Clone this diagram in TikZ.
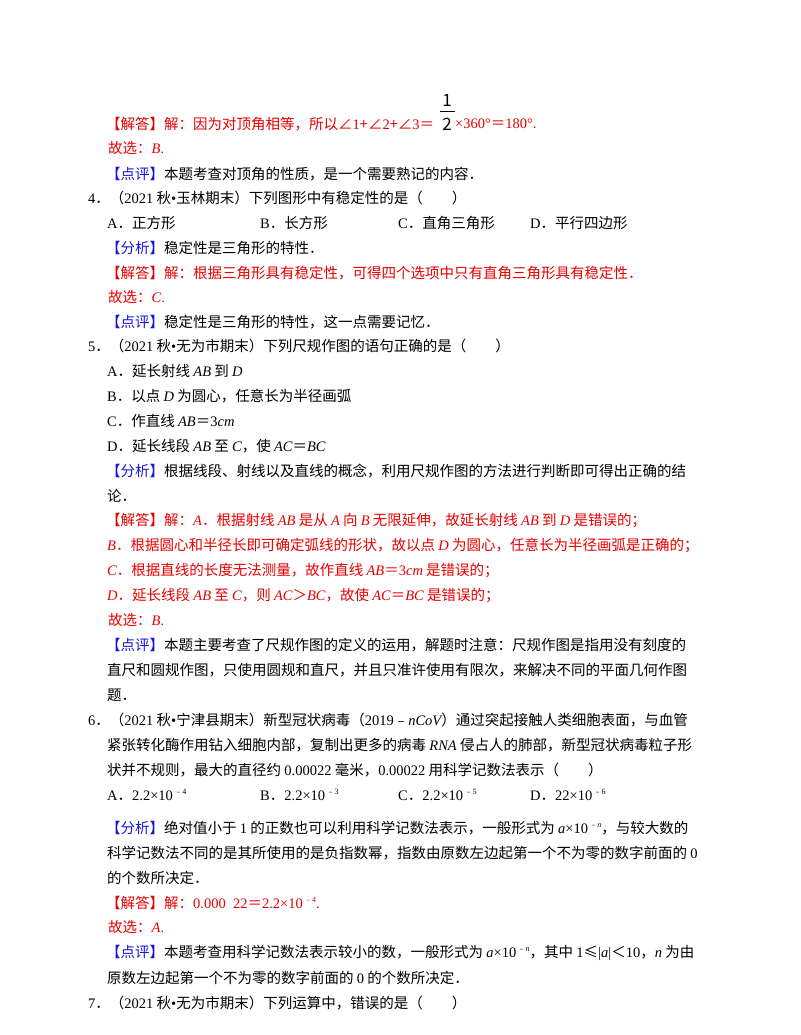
\documentclass[tikz,border=0pt]{standalone}
\usepackage{fontspec}
\setmainfont{Noto Sans CJK SC}
\newfontfamily\lat{Liberation Serif}
\newcommand{\mi}[1]{{\lat\itshape #1}}
\newcommand{\nm}[1]{{\lat #1}}
\newcommand{\sm}[1]{\raisebox{0.8ex}{\footnotesize\,﹣#1}}
\definecolor{rd}{RGB}{230,0,0}
\definecolor{bl}{RGB}{20,20,220}
\newcommand{\fxq}{{\color{bl}【分析】}}
\newcommand{\dpq}{{\color{bl}【点评】}}
\begin{document}
\begin{tikzpicture}[x=1pt,y=-1pt]
\tikzset{t/.style={anchor=west,inner sep=0pt,font=\fontsize{14.5}{16}\selectfont},r/.style={t,text=rd},fr/.style={inner sep=0pt,font=\fontsize{17}{18}\selectfont}}
\useasboundingbox (0,0) rectangle (800,1035);
\node[r] (l1) at (106,124) {【解答】解：因为对顶角相等，所以∠\nm{1}+∠\nm{2}+∠\nm{3}＝};
\node[fr] (f2) at (447,124) {2};
\node[fr] (f1) at (447,100) {1};
\draw (440,111) -- (455,111);
\node[r] (l1b) at (455,124) {\nm{×360°}＝\nm{180°.}};
\node[r] (l2) at (108,148) {故选：\mi{B}\nm{.}};
\node[t] (l3) at (106,174) {\dpq 本题考查对顶角的性质，是一个需要熟记的内容．};
\node[t] (q4) at (88,198) {\nm{4}．（\nm{2021} 秋\nm{•}玉林期末）下列图形中有稳定性的是（\hspace{2em}）};
\node[t] (o4a) at (107,223) {\nm{A}．正方形};
\node[t] (o4b) at (260,223) {\nm{B}．长方形};
\node[t] (o4c) at (398,223) {\nm{C}．直角三角形};
\node[t] (o4d) at (530,223) {\nm{D}．平行四边形};
\node[t] (a4) at (106,248) {\fxq 稳定性是三角形的特性．};
\node[r] (s4) at (106,273) {【解答】解：根据三角形具有稳定性，可得四个选项中只有直角三角形具有稳定性．};
\node[r] (x4) at (108,297) {故选：\mi{C}\nm{.}};
\node[t] (d4) at (106,322) {\dpq 稳定性是三角形的特性，这一点需要记忆．};
\node[t] (q5) at (88,346) {\nm{5}．（\nm{2021} 秋\nm{•}无为市期末）下列尺规作图的语句正确的是（\hspace{2em}）};
\node[t] (o5a) at (107,371) {\nm{A}．延长射线 \mi{AB} 到 \mi{D}};
\node[t] (o5b) at (107,396) {\nm{B}．以点 \mi{D} 为圆心，任意长为半径画弧};
\node[t] (o5c) at (107,421) {\nm{C}．作直线 \mi{AB}＝\nm{3}\mi{cm}};
\node[t] (o5d) at (107,446) {\nm{D}．延长线段 \mi{AB} 至 \mi{C}，使 \mi{AC}＝\mi{BC}};
\node[t] (a5) at (106,471) {\fxq 根据线段、射线以及直线的概念，利用尺规作图的方法进行判断即可得出正确的结};
\node[t] (a5b) at (107,496) {论．};
\node[r] (s5) at (106,521) {【解答】解：\mi{A}．根据射线 \mi{AB} 是从 \mi{A} 向 \mi{B} 无限延伸，故延长射线 \mi{AB} 到 \mi{D} 是错误的；};
\node[r] (s5b) at (107,546) {\mi{B}．根据圆心和半径长即可确定弧线的形状，故以点 \mi{D} 为圆心，任意长为半径画弧是正确的；};
\node[r] (s5c) at (107,571) {\mi{C}．根据直线的长度无法测量，故作直线 \mi{AB}＝\nm{3}\mi{cm} 是错误的；};
\node[r] (s5d) at (107,596) {\mi{D}．延长线段 \mi{AB} 至 \mi{C}，则 \mi{AC}＞\mi{BC}，故使 \mi{AC}＝\mi{BC} 是错误的；};
\node[r] (x5) at (108,620) {故选：\mi{B}\nm{.}};
\node[t] (d5) at (106,645) {\dpq 本题主要考查了尺规作图的定义的运用，解题时注意：尺规作图是指用没有刻度的};
\node[t] (d5b) at (107,670) {直尺和圆规作图，只使用圆规和直尺，并且只准许使用有限次，来解决不同的平面几何作图};
\node[t] (d5c) at (107,695) {题．};
\node[t] (q6) at (88,720) {\nm{6}．（\nm{2021} 秋\nm{•}宁津县期末）新型冠状病毒（\nm{2019}﹣\mi{nCoV}）通过突起接触人类细胞表面，与血管};
\node[t] (q6b) at (107,745) {紧张转化酶作用钻入细胞内部，复制出更多的病毒 \mi{RNA} 侵占人的肺部，新型冠状病毒粒子形};
\node[t] (q6c) at (107,770) {状并不规则，最大的直径约 \nm{0.00022} 毫米，\nm{0.00022} 用科学记数法表示（\hspace{2em}）};
\node[t] (o6a) at (107,795) {\nm{A}．\nm{2.2×10}\sm{\nm{4}}};
\node[t] (o6b) at (260,795) {\nm{B}．\nm{2.2×10}\sm{\nm{3}}};
\node[t] (o6c) at (398,795) {\nm{C}．\nm{2.2×10}\sm{\nm{5}}};
\node[t] (o6d) at (530,795) {\nm{D}．\nm{22×10}\sm{\nm{6}}};
\node[t] (a6) at (106,828) {\fxq 绝对值小于 \nm{1} 的正数也可以利用科学记数法表示，一般形式为 \mi{a}\nm{×10}\sm{\mi{n}}，与较大数的};
\node[t] (a6b) at (107,853) {科学记数法不同的是其所使用的是负指数幂，指数由原数左边起第一个不为零的数字前面的 \nm{0}};
\node[t] (a6c) at (107,878) {的个数所决定．};
\node[r] (s6) at (106,903) {【解答】解：\nm{0.000\ \ 22}＝\nm{2.2×10}\sm{\nm{4}}\nm{.}};
\node[r] (x6) at (108,927) {故选：\mi{A}\nm{.}};
\node[t] (d6) at (106,953) {\dpq 本题考查用科学记数法表示较小的数，一般形式为 \mi{a}\nm{×10}\sm{\mi{n}}，其中 \nm{1}≤\nm{|}\mi{a}\nm{|}＜\nm{10}，\mi{n} 为由};
\node[t] (d6b) at (107,978) {原数左边起第一个不为零的数字前面的 \nm{0} 的个数所决定．};
\node[t] (q7) at (88,1003) {\nm{7}．（\nm{2021} 秋\nm{•}无为市期末）下列运算中，错误的是（\hspace{2em}）};
\end{tikzpicture}
\end{document}
